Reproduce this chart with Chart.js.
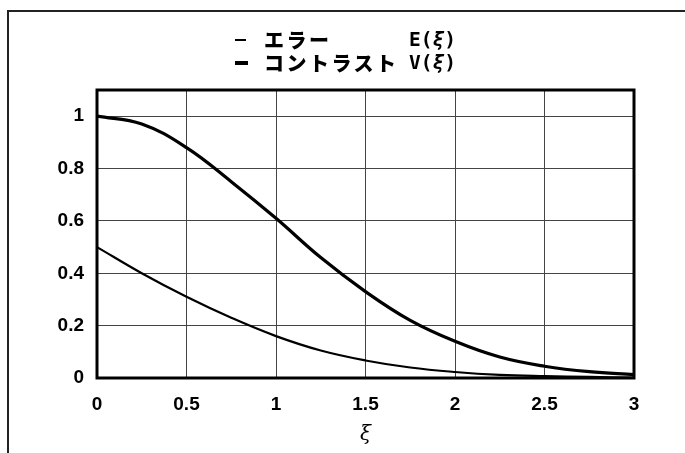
<!DOCTYPE html>
<html>
<head>
<meta charset="utf-8">
<script src="https://cdn.jsdelivr.net/npm/chart.js@4/dist/chart.umd.min.js"></script>
<style>
  body { margin: 0; background: #fff; }
  #wrap { position: relative; width: 685px; height: 453px; }
  .lg { position: absolute; height: 24px; line-height: 24px; color: #000; white-space: nowrap; }
  .jp { font-family: "Noto Sans CJK JP", sans-serif; font-weight: 900; font-size: 20px; letter-spacing: 2.5px; }
  .fn { font-family: "DejaVu Sans Mono", monospace; font-weight: 700; font-size: 19.5px; }
  .fn i { font-style: italic; }
  .mk { position: absolute; background: #000; }
</style>
</head>
<body>
<div id="wrap">
  <canvas id="chart" width="685" height="453"></canvas>
  <div class="mk" style="left:235px; top:39px; width:11px; height:2px;"></div>
  <div class="lg jp" style="left:264px; top:28px;">エラー</div>
  <div class="lg fn" style="left:409px; top:28px;">E(<i>ξ</i>)</div>
  <div class="mk" style="left:235px; top:61px; width:13px; height:4px;"></div>
  <div class="lg jp" style="left:264px; top:51px;">コントラスト</div>
  <div class="lg fn" style="left:409px; top:51px;">V(<i>ξ</i>)</div>
</div>
<script>
// values
const xi = [0, 0.25, 0.5, 0.75, 1, 1.25, 1.5, 1.75, 2, 2.25, 2.5, 2.75, 3]
const errorValues = [0.50, 0.40, 0.31, 0.23, 0.16, 0.105, 0.067, 0.04, 0.023, 0.012, 0.007, 0.004, 0.002]
const contrastValues = [1.00, 0.97, 0.88, 0.75, 0.61, 0.46, 0.33, 0.22, 0.14, 0.08, 0.045, 0.024, 0.013]
const xTicks = [0, 0.5, 1, 1.5, 2, 2.5, 3]
const yTicks = [0, 0.2, 0.4, 0.6, 0.8, 1]

const toPoints = (ys) => xi.map((x, i) => ({ x: x, y: ys[i] }))

// outer frame lines + thick plot border
const frames = {
    id: 'frames',
    beforeDraw(chart) {
        const ctx = chart.ctx
        ctx.save()
        ctx.strokeStyle = '#222'
        ctx.lineWidth = 2
        ctx.beginPath()
        ctx.moveTo(685, 11)
        ctx.lineTo(8, 11)
        ctx.lineTo(8, 453)
        ctx.stroke()
        ctx.restore()
    },
    afterDraw(chart) {
        const a = chart.chartArea
        const ctx = chart.ctx
        ctx.save()
        ctx.strokeStyle = '#000'
        ctx.lineWidth = 3
        ctx.strokeRect(a.left, a.top, a.right - a.left, a.bottom - a.top)
        ctx.restore()
    }
}

const tickFont = { family: '"Liberation Sans", Arial, sans-serif', size: 19, weight: 'bold' }

new Chart(document.getElementById('chart'), {
    type: 'line',
    data: {
        datasets: [
            {
                label: 'エラー E(ξ)',
                data: toPoints(errorValues),
                borderColor: '#000',
                borderWidth: 2.2,
                pointRadius: 0,
                tension: 0.4,
                fill: false
            },
            {
                label: 'コントラスト V(ξ)',
                data: toPoints(contrastValues),
                borderColor: '#000',
                borderWidth: 3.2,
                pointRadius: 0,
                tension: 0.4,
                fill: false
            }
        ]
    },
    options: {
        responsive: false,
        animation: false,
        layout: { padding: { left: 37, top: 90, right: 51, bottom: 0 } },
        plugins: { legend: { display: false }, tooltip: { enabled: false } },
        scales: {
            x: {
                type: 'linear',
                min: 0,
                max: 3,
                afterFit(scale) { scale.height = 75 },
                afterBuildTicks(scale) { scale.ticks = xTicks.map(v => ({ value: v })) },
                grid: { color: '#444', lineWidth: 1, drawTicks: false },
                border: { display: false },
                ticks: { color: '#000', font: tickFont, padding: 15, maxRotation: 0, callback: v => String(v) },
                title: {
                    display: true,
                    text: 'ξ',
                    color: '#000',
                    font: { family: '"DejaVu Serif", serif', size: 20, style: 'italic' },
                    padding: { top: 0, bottom: 6 }
                }
            },
            y: {
                min: 0,
                max: 1.1,
                afterFit(scale) { scale.width = 60 },
                afterBuildTicks(scale) { scale.ticks = yTicks.map(v => ({ value: v })) },
                grid: { color: '#444', lineWidth: 1, drawTicks: false },
                border: { display: false },
                ticks: { color: '#000', font: tickFont, padding: 13, callback: v => String(v) }
            }
        }
    },
    plugins: [frames]
})
</script>
</body>
</html>
